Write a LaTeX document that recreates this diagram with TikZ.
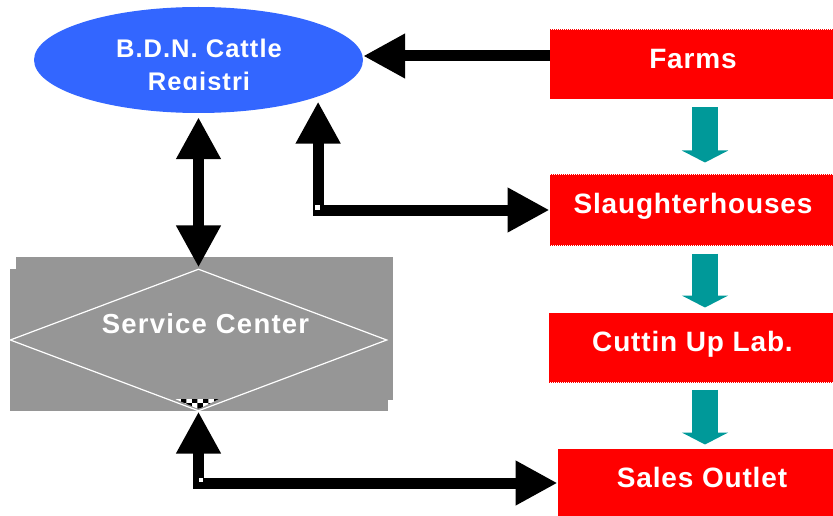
\documentclass[tikz,border=0pt]{standalone}
\usepackage{fontspec}
\setmainfont{Liberation Sans}
\usetikzlibrary{shapes.geometric,arrows.meta,patterns,calc}
\definecolor{regblue}{HTML}{3366FF}
\definecolor{boxred}{HTML}{FF0000}
\definecolor{flowteal}{HTML}{009999}
\definecolor{svcgray}{HTML}{969696}

\begin{document}
\begin{tikzpicture}[x=1pt,y=-1pt,
  lbl/.style={text=white,font=\bfseries\fontsize{28}{33}\selectfont\addfontfeature{LetterSpace=3}},
  svclbl/.style={text=white,font=\bfseries\fontsize{27.5}{33}\selectfont\addfontfeature{LetterSpace=4.5}},
  reglbl/.style={text=white,font=\bfseries\fontsize{25.5}{33}\selectfont\addfontfeature{LetterSpace=4}},
  stepbox/.style={rectangle,fill=boxred,draw=boxred,densely dotted,line width=1pt,
    inner sep=0pt,text height=20pt,text depth=12pt,lbl},
  blk/.style={draw=black,line width=11pt,line join=miter},
  blkone/.style={blk,-{Triangle[length=42pt,width=42pt]}},
  blktwo/.style={blk,{Triangle[length=42pt,width=42pt]}-{Triangle[length=42pt,width=42pt]}},
  tealarr/.style={draw=flowteal,line width=26pt,-{Triangle[length=12pt,width=46pt]}}
]
\useasboundingbox (0,0) rectangle (833,516);

% registry ellipse
\node[ellipse,fill=regblue,minimum width=329pt,minimum height=106pt,inner sep=0pt] (reg) at (198.5,60) {};
\begin{scope}
  \clip (30,0) rectangle (370,89.5);
  \node[reglbl,align=center,anchor=north,inner sep=0pt] (regtext) at (199,38.5) {B.D.N. Cattle\\Registri};
\end{scope}

% service center: grey panel with a diamond
\fill[svcgray] (16,257) rectangle (393,400);
\fill[svcgray] (10,269) rectangle (388,411);
\fill[white] (175,399) -- (219,399) -- (198.5,409) -- cycle;
\fill[pattern=checkerboard,pattern color=black] (175,399) -- (219,399) -- (198.5,409) -- cycle;
\node[diamond,draw=white,line width=1.2pt,aspect=2.65,minimum width=377pt,minimum height=142pt,inner sep=0pt,
  label={[name=svctext,svclbl,xshift=7pt,yshift=16pt]center:Service Center}] (svc) at (198.5,340) {};

% chain of red boxes
\node[stepbox,minimum width=286pt,minimum height=69pt] (farms) at (693,64.5) {Farms};
\node[stepbox,minimum width=286pt,minimum height=70pt] (slaughter) at (693,210) {Slaughterhouses};
\node[stepbox,minimum width=287pt,minimum height=69pt] (cutting) at (692.5,347.5) {Cuttin Up Lab.};
\node[stepbox,minimum width=278pt,minimum height=68pt] (sales) at (697,483) {\hspace*{10pt}Sales Outlet};

% teal flow arrows
\coordinate (ax) at (705,0);
\draw[tealarr,shorten <=8pt,shorten >=12pt] (farms.south -| ax) -- (slaughter.north -| ax);
\draw[tealarr,shorten <=8pt,shorten >=5pt] (slaughter.south -| ax) -- (cutting.north -| ax);
\draw[tealarr,shorten <=7pt,shorten >=4pt] (cutting.south -| ax) -- (sales.north -| ax);

% black connectors
\draw[blkone] ($(farms.west |- reg.east)+(0,-4)$) -- ($(reg.east)+(0,-4)$);
\draw[blktwo,shorten <=4pt,shorten >=1pt] (reg.south) -- (svc.north);
\draw[blktwo,shorten <=5pt] (reg.-17) |- (slaughter.west);
\draw[blktwo] (svc.south) |- (sales.west);

% small light specks at the elbows
\fill[white] (315,205) rectangle (320,210);
\fill[white] (199,478) rectangle (203,482);
\end{tikzpicture}
\end{document}
